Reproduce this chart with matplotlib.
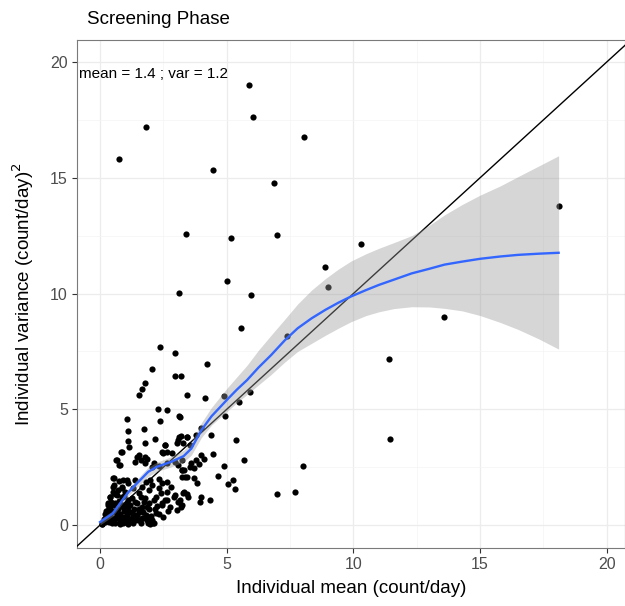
import matplotlib
matplotlib.use("Agg")
import matplotlib.pyplot as plt
from matplotlib.ticker import MultipleLocator

plt.rcParams['font.family'] = ['Liberation Sans', 'DejaVu Sans']

# -------------------------
# DATA
# -------------------------
# individual mean / variance per subject
ind_mean = [
    5.86, 6.03, 1.80, 0.74, 8.06, 4.47, 6.85, 3.41, 5.17, 6.98, 18.13, 10.3,
    8.86, 9.0, 5.01, 3.11, 5.97, 13.57, 5.56, 7.38, 2.37, 2.95, 11.4, 4.23,
    2.05, 2.96, 3.2, 1.77, 1.64, 1.55, 3.43, 4.14, 4.9, 5.9, 5.49, 11.43,
    8.03, 7.69, 6.98, 5.36, 5.69, 4.89, 4.44, 4.66, 5.25, 5.05, 5.33, 4.34,
    3.97, 3.93, 4.38, 4.93, 4.0, 3.77, 3.44, 3.28, 3.17, 3.97, 4.1, 3.9,
    3.7, 3.57, 3.77, 3.24, 3.44, 3.7, 3.81, 3.24, 3.31, 3.44, 3.17, 3.24,
    2.3, 2.63, 3.12, 2.37, 1.07, 1.11, 1.73, 1.11, 1.16, 2.16, 1.76, 2.56,
    3.06, 3.19, 0.81, 2.46, 2.66, 0.61, 0.74, 1.47, 1.6, 1.87, 2.13, 2.33,
    3.25, 3.06, 3.32, 0.54, 0.74, 0.54, 0.87, 1.07, 1.8, 2.06, 1.93, 2.33,
    2.63, 2.79, 2.39, 2.66, 2.92, 3.06, 3.19, 2.46, 2.26, 0.41, 0.35, 0.31,
    0.41, 1.93, 2.2, 2.06, 2.1, 0.08, 1.89, 0.77,
    2.57, 3.1, 3.43, 0.86, 1.52, 1.78, 0.66, 0.79, 2.5, 2.83, 3.03, 3.56,
    1.38, 1.78, 2.04, 2.63, 2.96, 3.23, 3.56, 3.36, 0.53, 0.92, 1.12, 0.53,
    0.72, 1.38, 1.65, 1.52, 1.98, 2.31, 2.44, 2.63, 2.96, 3.29, 3.49, 0.4,
    0.59, 0.33, 0.59, 0.86, 1.12, 0.86, 1.12, 1.38, 1.52, 1.78, 1.85, 2.11,
    2.17, 2.44, 2.57, 2.77, 2.31, 2.11, 0.59, 0.86, 1.12, 1.38, 1.65, 0.46,
    0.79, 1.12, 0.33, 1.05, 1.32, 1.91, 1.98, 0.2, 0.07, 3.1, 3.03,
    0.15, 0.25, 0.3, 0.45, 0.5, 0.65, 0.7, 0.95, 1.0, 1.2, 1.25, 0.6,
    0.9, 1.45, 1.6, 1.7,
    0.2, 0.35, 0.4, 0.5, 0.55, 0.6, 0.7, 0.75, 0.8, 0.85, 0.9, 0.95,
    1.0, 1.05, 1.1, 1.15, 1.2, 1.25, 1.3, 1.35, 1.4, 1.45, 1.5, 1.55,
    1.6, 1.65, 1.7, 1.75, 1.8, 1.85, 1.95, 2.0, 0.25, 0.45, 0.65, 0.3,
    1.0, 1.3, 0.85, 0.5, 2.2, 2.5, 2.7,
]
ind_var = [
    19.0, 17.64, 17.18, 15.8, 16.76, 15.35, 14.79, 12.56, 12.41, 12.53, 13.78, 12.12,
    11.16, 10.27, 10.55, 10.01, 9.92, 9.0, 8.52, 8.18, 7.67, 7.44, 7.17, 6.94,
    6.72, 6.42, 6.44, 6.15, 5.86, 5.63, 5.62, 5.49, 5.59, 5.73, 5.33, 3.71,
    2.55, 1.45, 1.34, 3.66, 2.79, 2.55, 3.05, 2.12, 1.93, 1.77, 1.54, 1.08,
    1.22, 0.98, 3.9, 4.71, 4.18, 3.89, 3.81, 3.56, 4.68, 3.02, 2.85, 2.64,
    2.45, 2.67, 2.81, 2.4, 2.06, 2.02, 1.8, 2.09, 1.44, 1.33, 1.08, 0.86,
    5.0, 4.97, 4.71, 4.5, 4.57, 4.07, 4.13, 3.64, 3.38, 3.72, 3.53, 3.46,
    3.67, 3.84, 3.17, 3.17, 3.14, 2.81, 2.59, 2.95, 2.81, 2.84, 2.67, 2.55,
    2.81, 2.59, 2.38, 2.02, 1.91, 1.73, 1.63, 1.94, 1.87, 1.73, 1.51, 1.97,
    1.87, 1.63, 1.37, 1.08, 1.22, 1.01, 0.79, 0.94, 0.82, 1.22, 0.94, 0.65,
    0.5, 0.68, 0.53, 0.22, 0.1, 0.05, 0.1, 0.14,
    3.45, 3.82, 3.82, 3.17, 3.02, 2.95, 2.81, 2.6, 3.12, 3.1, 3.53, 3.46,
    2.73, 2.66, 2.52, 2.66, 2.73, 2.38, 2.52, 2.09, 2.02, 1.94, 1.8, 1.65,
    1.51, 1.94, 1.65, 1.37, 1.94, 1.58, 1.8, 1.44, 1.3, 1.37, 1.22, 1.2,
    1.34, 0.86, 0.94, 1.2, 1.07, 0.86, 0.8, 1.01, 0.7, 1.15, 0.8, 1.07,
    0.7, 0.86, 1.07, 0.8, 0.5, 0.07, 0.29, 0.22, 0.14, 0.22, 0.29, 0.07,
    0.05, 0.05, 0.43, 0.43, 0.5, 0.36, 0.05, 0.14, 0.05, 1.01, 0.65,
    0.25, 0.35, 0.2, 0.3, 0.55, 0.45, 0.7, 0.6, 0.35, 0.55, 0.3, 0.1,
    0.1, 0.45, 0.1, 0.55,
    0.5, 0.15, 0.75, 0.2, 0.85, 0.6, 0.3, 1.05, 0.5, 0.35, 0.8, 1.25,
    0.15, 0.95, 0.6, 0.25, 0.85, 1.15, 0.1, 0.7, 0.35, 0.95, 0.2, 0.55,
    1.2, 0.8, 0.3, 1.0, 0.45, 0.2, 0.95, 0.4, 0.6, 1.0, 1.3, 0.95,
    1.45, 1.6, 1.6, 1.45, 1.2, 0.35, 0.6,
]

# loess fit and its confidence band
fit_x = [0, 0.5, 1.1, 1.9, 2.25, 2.8, 3.3, 3.6, 4.0, 4.4, 5.0, 5.4, 5.8, 6.25, 6.75,
         7.3, 7.8, 8.35, 8.9, 9.4, 9.9, 10.5, 11, 11.6, 12.3, 13, 13.6, 14.3, 15,
         15.8, 16.5, 17.3, 18.1]
fit_y = [0.13, 0.5, 1.4, 2.3, 2.52, 2.73, 2.98, 3.3, 4.1, 4.7, 5.4, 5.85, 6.26, 6.8, 7.34,
         7.99, 8.5, 8.93, 9.3, 9.6, 9.87, 10.15, 10.37, 10.6, 10.87, 11.07, 11.25, 11.38,
         11.5, 11.6, 11.67, 11.72, 11.76]
ci_hi = [0.25, 0.62, 1.55, 2.5, 2.72, 2.95, 3.23, 3.58, 4.42, 5.08, 5.9, 6.4, 6.9, 7.55, 8.2,
         8.9, 9.55, 10.15, 10.65, 11.05, 11.4, 11.72, 11.95, 12.2, 12.5, 12.95, 13.4, 13.85,
         14.25, 14.65, 15.05, 15.5, 15.95]
ci_lo = [0.01, 0.38, 1.25, 2.1, 2.32, 2.51, 2.73, 3.02, 3.78, 4.32, 4.9, 5.28, 5.64, 6.05, 6.5,
         7.05, 7.5, 7.85, 8.2, 8.5, 8.78, 9.05, 9.21, 9.35, 9.43, 9.42, 9.36, 9.25, 9.05,
         8.75, 8.45, 8.05, 7.6]

title = "Screening Phase"
note = "mean = 1.4 ; var = 1.2"

# -------------------------
# PLOT
# -------------------------
fig = plt.figure(figsize=(6.25, 6.06), dpi=100)
ax = fig.add_axes([77 / 625, 1 - 548 / 606, 548 / 625, 508 / 606])

ax.scatter(ind_mean, ind_var, s=20, color="black", linewidths=0, zorder=2)
ax.axline((0, 0), slope=1, color="black", lw=1.0, zorder=3)
ax.fill_between(fit_x, ci_lo, ci_hi, color="#999999", alpha=0.4, linewidth=0, zorder=4)
ax.plot(fit_x, fit_y, color="#3366FF", lw=1.7, zorder=5)

ax.set_xlim(-0.91, 20.72)
ax.set_ylim(-0.99, 20.95)
ax.xaxis.set_major_locator(MultipleLocator(5))
ax.yaxis.set_major_locator(MultipleLocator(5))
ax.xaxis.set_minor_locator(MultipleLocator(2.5))
ax.yaxis.set_minor_locator(MultipleLocator(2.5))

ax.grid(which="major", color="#ececec", lw=0.9)
ax.grid(which="minor", color="#f4f4f4", lw=0.5)
ax.set_axisbelow(True)
ax.tick_params(which="minor", length=0)
ax.tick_params(which="major", length=3.5, width=0.8, color="#333333",
               labelcolor="#4d4d4d", labelsize=11.5, pad=3)

for sp in ax.spines.values():
    sp.set_color("#7a7a7a")
    sp.set_linewidth(0.8)

ax.set_xlabel("Individual mean (count/day)", fontsize=13.5, labelpad=6)
ax.set_ylabel("Individual variance (count/day)$^2$", fontsize=13.5, labelpad=10)

ax.text(0.004, 0.933, note, transform=ax.transAxes, fontsize=11,
        ha="left", va="center", zorder=6)
fig.text(87 / 625, 1 - 20 / 606, title, fontsize=13.5, ha="left", va="center")

fig.savefig("out.png", dpi=100)
